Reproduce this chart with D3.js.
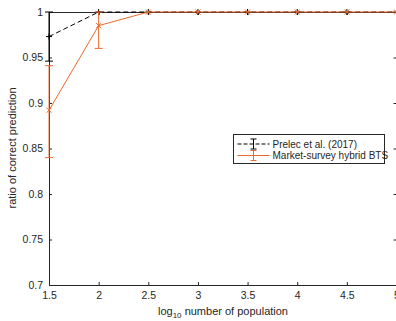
<!DOCTYPE html>
<html>
<head>
<meta charset="utf-8">
<script src="https://d3js.org/d3.v7.min.js"></script>
<style>
  body { margin: 0; background: #fff; }
  text { font-family: 'Liberation Sans', Arial, sans-serif; fill: #262626; }
</style>
</head>
<body>
<script>
  // data
  var logPop = [1.5, 2, 2.5, 3, 3.5, 4, 4.5, 5];
  var prelec = [0.973, 1, 1, 1, 1, 1, 1, 1];
  var prelecErr = [0.027, 0, 0, 0, 0, 0, 0, 0];
  var hybrid = [0.892, 0.985, 1, 1, 1, 1, 1, 1];
  var hybridLo = [0.840, 0.960, 1, 1, 1, 1, 1, 1];
  var hybridHi = [0.941, 1.0, 1, 1, 1, 1, 1, 1];
  var xTicks = [1.5, 2, 2.5, 3, 3.5, 4, 4.5, 5];
  var yTicks = [0.7, 0.75, 0.8, 0.85, 0.9, 0.95, 1];
  var seriesNames = ["Prelec et al. (2017)", "Market-survey hybrid BTS"];

  var width = 396, height = 321;
  var orange = "#EA6A2C";

  var svg = d3.select("body").append("svg")
    .attr("width", width)
    .attr("height", height);

  var x = d3.scaleLinear().domain([1.5, 5]).range([49, 396.5]);
  var y = d3.scaleLinear().domain([0.7, 1]).range([285, 12]);

  // axes
  var axisCol = "#262626";
  svg.append("g").attr("transform", "translate(0," + y(0.7) + ")")
    .call(d3.axisBottom(x).tickValues(xTicks).tickSize(-3).tickPadding(7).tickFormat(d3.format("")));
  svg.append("g").attr("transform", "translate(" + x(1.5) + ",0)")
    .call(d3.axisLeft(y).tickValues(yTicks).tickSize(-3).tickPadding(6).tickFormat(d3.format("")));
  // mirrored ticks
  svg.append("g").attr("transform", "translate(0," + y(1) + ")")
    .call(d3.axisTop(x).tickValues(xTicks).tickSize(-3).tickFormat(""));
  svg.append("g").attr("transform", "translate(" + x(5) + ",0)")
    .call(d3.axisRight(y).tickValues(yTicks).tickSize(-3).tickFormat(""));
  svg.selectAll(".domain").attr("stroke", axisCol).attr("stroke-width", 1);
  svg.selectAll(".tick line").attr("stroke", axisCol);
  svg.selectAll(".tick text").attr("font-size", 10.5).style("font-family", "'Liberation Sans', Arial, sans-serif").attr("fill", axisCol);

  // axis labels
  var xl = svg.append("text").attr("x", 223).attr("y", 315).attr("text-anchor", "middle").attr("font-size", 11);
  xl.append("tspan").text("log");
  xl.append("tspan").attr("font-size", 8).attr("dy", 3).text("10");
  xl.append("tspan").attr("dy", -3).text(" number of population");
  svg.append("text").attr("transform", "translate(16,148) rotate(-90)")
    .attr("text-anchor", "middle").attr("font-size", 11).text("ratio of correct prediction");

  var line = d3.line().x(function(d) { return x(d[0]); }).y(function(d) { return y(d[1]); });

  // error bars helper
  function errBar(g, xv, lo, hi, col) {
    if (hi - lo < 1e-9) return;
    g.append("line").attr("x1", x(xv)).attr("x2", x(xv)).attr("y1", y(lo)).attr("y2", y(hi)).attr("stroke", col);
    [lo, hi].forEach(function(v) {
      g.append("line").attr("x1", x(xv) - 4).attr("x2", x(xv) + 4).attr("y1", y(v)).attr("y2", y(v)).attr("stroke", col);
    });
  }

  // Prelec series (black dashed, + markers)
  var gP = svg.append("g");
  gP.append("path").datum(d3.zip(logPop, prelec)).attr("d", line)
    .attr("fill", "none").attr("stroke", "#000").attr("stroke-dasharray", "5,3");
  logPop.forEach(function(v, i) {
    errBar(gP, v, prelec[i] - prelecErr[i], Math.min(1, prelec[i] + prelecErr[i]), "#000");
  });

  // hybrid series (orange, x markers)
  var gH = svg.append("g");
  gH.append("path").datum(d3.zip(logPop, hybrid)).attr("d", line)
    .attr("fill", "none").attr("stroke", orange);
  logPop.forEach(function(v, i) { errBar(gH, v, hybridLo[i], hybridHi[i], orange); });

  // markers
  logPop.forEach(function(v, i) {
    var cx = x(v), cy = y(prelec[i]);
    gP.append("path").attr("d", "M" + (cx - 3) + "," + cy + "H" + (cx + 3) + "M" + cx + "," + (cy - 3) + "V" + (cy + 3))
      .attr("stroke", "#000");
  });
  logPop.forEach(function(v, i) {
    var cx = x(v), cy = y(hybrid[i]);
    gH.append("path").attr("d", "M" + (cx - 2.5) + "," + (cy - 2.5) + "L" + (cx + 2.5) + "," + (cy + 2.5) +
      "M" + (cx - 2.5) + "," + (cy + 2.5) + "L" + (cx + 2.5) + "," + (cy - 2.5))
      .attr("stroke", orange);
  });

  // legend
  var lg = svg.append("g").attr("transform", "translate(233.5,134.5)");
  lg.append("rect").attr("width", 151).attr("height", 29).attr("fill", "#fff").attr("stroke", axisCol);
  var rows = [{col: "#000", dash: "4,2", y: 9.5}, {col: orange, dash: null, y: 21}];
  rows.forEach(function(r, i) {
    lg.append("line").attr("x1", 4).attr("x2", 36).attr("y1", r.y).attr("y2", r.y)
      .attr("stroke", r.col).attr("stroke-dasharray", r.dash);
    lg.append("line").attr("x1", 20).attr("x2", 20).attr("y1", r.y - 5).attr("y2", r.y + 5).attr("stroke", r.col);
    lg.append("line").attr("x1", 17).attr("x2", 23).attr("y1", r.y - 5).attr("y2", r.y - 5).attr("stroke", r.col);
    lg.append("line").attr("x1", 17).attr("x2", 23).attr("y1", r.y + 5).attr("y2", r.y + 5).attr("stroke", r.col);
    lg.append("text").attr("x", 39).attr("y", r.y + 3.5).attr("font-size", 10).text(seriesNames[i]);
  });
</script>
</body>
</html>
